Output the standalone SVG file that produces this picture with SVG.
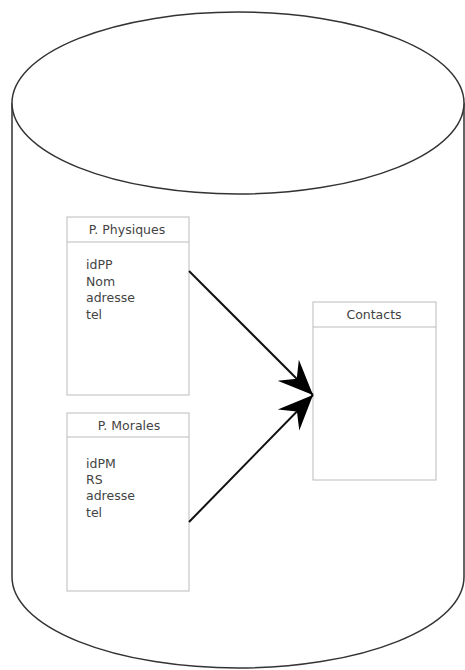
<svg xmlns="http://www.w3.org/2000/svg" width="465" height="670" viewBox="0 0 465 670">
<style>
.cyl{fill:#fff;stroke:#333;stroke-width:1.5}
.box{fill:#fff;stroke:#bbb;stroke-width:1}
.sep{stroke:#bbb;stroke-width:1}
text{font-family:"DejaVu Sans","Liberation Sans",sans-serif;font-size:12.5px;fill:#444}
.title{text-anchor:middle}
.conn{stroke:#111;stroke-width:2;fill:none;marker-end:url(#head)}
</style>
<defs>
<marker id="head" viewBox="-36 -16 38 32" refX="0" refY="0" markerWidth="38" markerHeight="32" markerUnits="userSpaceOnUse" orient="auto">
<path d="M0,0 L-35,-15 L-23,0 L-35,15 Z" fill="#000"/>
</marker>
</defs>
<g id="cylinder">
<path class="cyl" d="M12,103 L12,577 A226,91 0 0 0 464,577 L464,103"/>
<ellipse class="cyl" cx="238" cy="103" rx="226" ry="91"/>
</g>
<g id="pphysiques">
<rect class="box" x="67" y="217" width="122" height="178"/>
<line class="sep" x1="67" y1="242" x2="189" y2="242"/>
<text class="title" x="127" y="234">P. Physiques</text>
<text x="86" y="269">idPP</text>
<text x="86" y="286">Nom</text>
<text x="86" y="302">adresse</text>
<text x="86" y="319">tel</text>
</g>
<g id="pmorales">
<rect class="box" x="67" y="413" width="122" height="178"/>
<line class="sep" x1="67" y1="437" x2="189" y2="437"/>
<text class="title" x="129" y="430">P. Morales</text>
<text x="86" y="468">idPM</text>
<text x="86" y="484">RS</text>
<text x="86" y="500">adresse</text>
<text x="86" y="517">tel</text>
</g>
<g id="contacts">
<rect class="box" x="313" y="302" width="123" height="178"/>
<line class="sep" x1="313" y1="327" x2="436" y2="327"/>
<text class="title" x="374" y="319">Contacts</text>
</g>
<g id="connectors">
<line class="conn" x1="189" y1="271" x2="313" y2="395"/>
<line class="conn" x1="189" y1="522" x2="313" y2="395"/>
</g>
</svg>
